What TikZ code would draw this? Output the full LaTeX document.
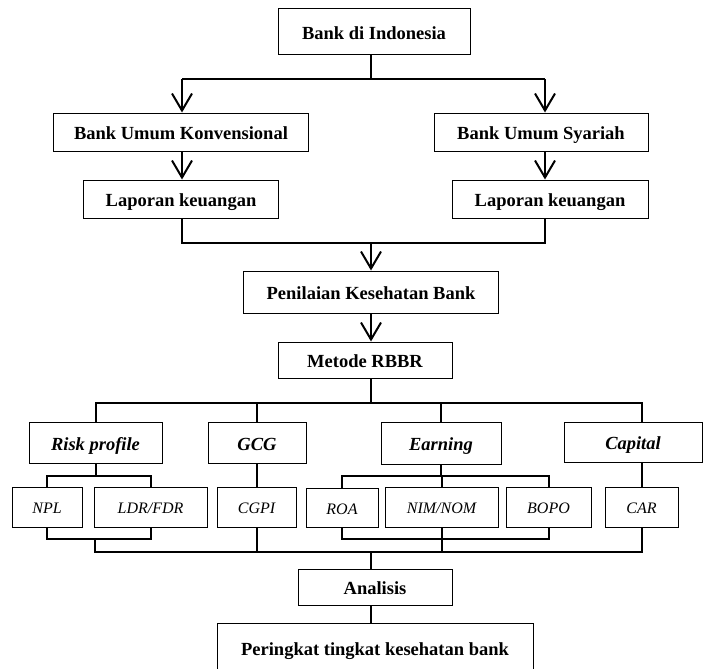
\documentclass[tikz,border=0pt]{standalone}
\usepackage{fontspec}
\setmainfont{Liberation Serif}
\usetikzlibrary{arrows.meta}
\tikzset{
	box/.style={draw, line width=1pt, inner sep=0pt, text height=15pt, text depth=0pt, font=\bfseries\fontsize{18.5}{20}\selectfont},
	kbox/.style={box, font=\bfseries\itshape\fontsize{18.5}{20}\selectfont},
	ibox/.style={box, text height=13pt, font=\itshape\fontsize{16}{18}\selectfont},
	line/.style={line width=2pt},
	arr/.style={line, -{Straight Barb[length=17pt,width=20pt]}}
}

\begin{document}
\begin{tikzpicture}[x=1pt,y=-1pt]
				\useasboundingbox (0,0) rectangle (707,669);
				\clip (0,0) rectangle (707,669);
				
				\node[box, minimum width=192pt, minimum height=46pt] (bdi) at (374,32) {Bank di Indonesia};
				\node[box, minimum width=255pt, minimum height=38pt] (buk) at (181,132) {Bank Umum Konvensional};
				\node[box, minimum width=214pt, minimum height=38pt] (bus) at (541,132) {Bank Umum Syariah};
				\node[box, minimum width=195pt, minimum height=38pt] (lk1) at (181,199) {Laporan keuangan};
				\node[box, minimum width=196pt, minimum height=38pt] (lk2) at (550,199) {Laporan keuangan};
				\node[box, minimum width=255pt, minimum height=42pt] (pkb) at (371,292) {Penilaian Kesehatan Bank};
				\node[box, minimum width=174pt, minimum height=36pt] (rbbr) at (365,360) {Metode RBBR};
				
				\coordinate (split) at (371,79);
				\coordinate (kl) at (182,79);
				\coordinate (kr) at (545,79);
				\coordinate (join) at (371,243);
				\draw[line] (bdi.south -| split) -- (split);
				\draw[line] (kl) -- (kr);
				\draw[arr] (kl) -- (kl |- buk.north);
				\draw[arr] (kr) -- (kr |- bus.north);
				\draw[arr] (buk.south -| kl) -- (lk1.north -| kl);
				\draw[arr] (bus.south -| kr) -- (lk2.north -| kr);
				\draw[line] (lk1.south -| kl) |- (join) -| (lk2.south -| kr);
				\draw[arr] (join) -- (join |- pkb.north);
				\draw[arr] (pkb.south -| join) -- (rbbr.north -| join);
				
				% RBBR components
				\node[kbox, minimum width=133pt, minimum height=41pt] (risk) at (95.5,442.5) {Risk profile};
				\node[kbox, minimum width=98pt, minimum height=41pt] (gcg) at (257,442.5) {GCG};
				\node[kbox, minimum width=120pt, minimum height=42pt] (earn) at (441,443) {Earning};
				\node[kbox, minimum width=138pt, minimum height=40pt] (cap) at (633,442) {Capital};
				
				\node[ibox, minimum width=70pt, minimum height=40pt] (npl) at (47,507) {NPL};
				\node[ibox, minimum width=113pt, minimum height=40pt] (ldr) at (150.5,507) {LDR/FDR};
				\node[ibox, minimum width=79pt, minimum height=40pt] (cgpi) at (256.5,507) {CGPI};
				\node[ibox, minimum width=72pt, minimum height=39pt] (roa) at (342,507.5) {ROA};
				\node[ibox, minimum width=113pt, minimum height=40pt] (nim) at (441.5,507) {NIM/NOM};
				\node[ibox, minimum width=85pt, minimum height=40pt] (bopo) at (548.5,507) {BOPO};
				\node[ibox, minimum width=73pt, minimum height=40pt] (car) at (641.5,507) {CAR};
				
				\coordinate (fork) at (371,403);
				\coordinate (rsplit) at (95,476);
				\coordinate (rjoin) at (95,539);
				\coordinate (esplit) at (441.5,476);
				\coordinate (ejoin) at (441.5,539);
				\coordinate (bottom) at (371,552);
				\draw[line] (rbbr.south -| fork) -- (fork);
				\draw[line] (risk.north) |- (fork) -| (car |- cap.north);
				\draw[line] (gcg.north) -- (gcg.north |- fork);
				\draw[line] (earn.north) -- (earn.north |- fork);
				
				\draw[line] (risk.south) -- (risk.south |- rsplit);
				\draw[line] (npl.north) |- (rsplit) -| (ldr.north);
				\draw[line] (npl.south) |- (rjoin) -| (ldr.south);
				\draw[line] (gcg.south) -- (gcg.south |- cgpi.north);
				\draw[line] (earn.south) -- (earn.south |- esplit);
				\draw[line] (roa.north) |- (esplit) -| (bopo.north);
				\draw[line] (nim.north) -- (nim.north |- esplit);
				\draw[line] (roa.south) |- (ejoin) -| (bopo.south);
				\draw[line] (cap.south -| car) -- (car.north);
				
				\draw[line] (rjoin) -- (rjoin |- bottom) -- (car.south |- bottom) -- (car.south);
				\draw[line] (cgpi.south) -- (cgpi.south |- bottom);
				\draw[line] (nim.south) -- (nim.south |- bottom);
				
				% result
				\node[box, minimum width=154pt, minimum height=36pt] (ana) at (375,587) {Analisis};
				\node[box, minimum width=316pt, anchor=north, text height=32pt, text depth=30pt] (prk) at (375,623) {Peringkat tingkat kesehatan bank};
				\draw[line] (bottom) -- (bottom |- ana.north);
				\draw[line] (ana.south -| bottom) -- (bottom |- prk.north);
\end{tikzpicture}
\end{document}
